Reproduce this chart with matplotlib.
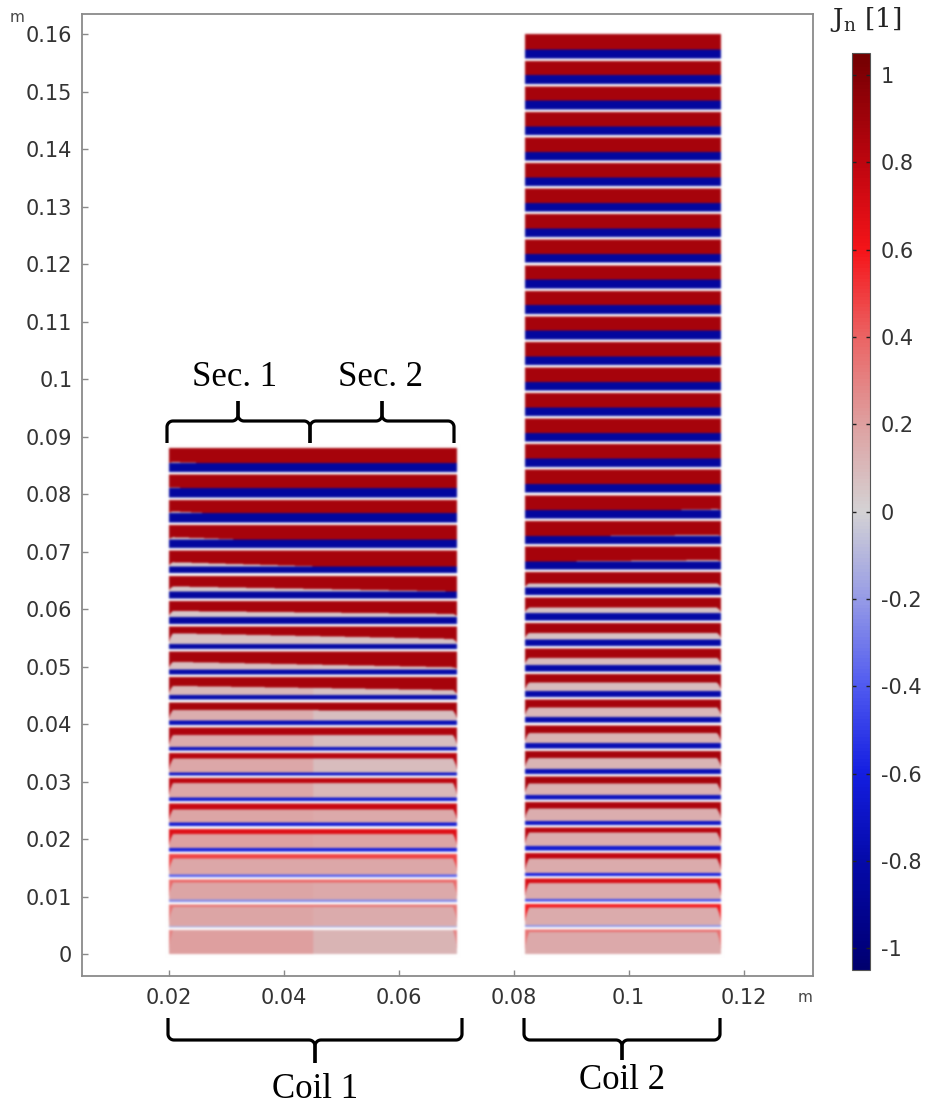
import numpy as np
import matplotlib
matplotlib.use('Agg')
import matplotlib.pyplot as plt
from matplotlib.colors import LinearSegmentedColormap, Normalize
from matplotlib.cm import ScalarMappable

plt.rcParams['axes.unicode_minus'] = False

# ---------------- data ----------------
# geometry of the two coils (m)
coil1_x = (0.02, 0.07)
coil1_y = (0.0, 0.088)
coil1_split = 0.045          # border between Sec. 1 and Sec. 2
coil2_x = (0.082, 0.116)
coil2_y = (0.0, 0.16)

# Coil 1, 20 turns, bottom (k=0) to top (k=19); thickness as fraction of the turn pitch
c1_blue = [0.00, 0.06, 0.10, 0.10, 0.13, 0.15, 0.13, 0.13, 0.13, 0.17,
           0.18, 0.20, 0.20, 0.27, 0.28, 0.27, 0.33, 0.38, 0.37, 0.35]
c1_core_left = [0.95, 0.74, 0.68, 0.62, 0.56, 0.52, 0.57, 0.54, 0.48, 0.43,
                0.37, 0.30, 0.43, 0.24, 0.20, 0.17, 0.10, 0.07, 0.04, 0.05]
c1_core_right = [0.95, 0.74, 0.68, 0.62, 0.56, 0.52, 0.57, 0.54, 0.47, 0.40,
                 0.20, 0.08, 0.20, 0.12, 0.00, -0.16, -0.29, -0.45, -0.76, -0.30]
c1_core_val_left = [0.20, 0.18, 0.18, 0.17, 0.19, 0.18, 0.17, 0.17, 0.15, 0.14,
                    0.10, 0.08, 0.06, 0.04, 0.03, 0.03, 0.03, 0.03, 0.03, 0.03]
c1_core_val_right = [0.12, 0.15, 0.16, 0.17, 0.18, 0.16, 0.10, 0.09, 0.08, 0.08,
                     0.06, 0.06, 0.05, 0.04, 0.03, 0.03, 0.03, 0.03, 0.03, 0.03]
c1_red_val = [0.30, 0.33, 0.38, 0.48, 0.68, 0.76, 0.80, 0.82, 0.85, 0.87,
              0.87, 0.87, 0.87, 0.87, 0.87, 0.87, 0.87, 0.87, 0.87, 0.87]
c1_blue_val = [-0.10, -0.12, -0.25, -0.38, -0.60, -0.65, -0.65, -0.70, -0.72, -0.75,
               -0.78, -0.80, -0.82, -0.84, -0.85, -0.85, -0.85, -0.85, -0.85, -0.85]

# Coil 2, 36 turns, bottom (k=0) to top (k=35)
c2_blue = [0.00, 0.08, 0.10, 0.12, 0.17, 0.15, 0.17, 0.18, 0.20, 0.22,
           0.24, 0.25, 0.26, 0.29, 0.29, 0.30, 0.30, 0.32, 0.34, 0.34,
           0.34, 0.34, 0.34, 0.34, 0.34, 0.34, 0.34, 0.34, 0.34, 0.34,
           0.34, 0.34, 0.34, 0.34, 0.34, 0.34]
c2_core_left = [0.86, 0.69, 0.63, 0.56, 0.53, 0.49, 0.46, 0.44, 0.40, 0.38,
                0.33, 0.29, 0.26, 0.21, 0.16, 0.00, -0.01, -0.09, -1, -1,
                -1, -1, -1, -1, -1, -1, -1, -1, -1, -1,
                -1, -1, -1, -1, -1, -1]
c2_core_right = [0.86, 0.69, 0.63, 0.56, 0.53, 0.49, 0.46, 0.44, 0.40, 0.38,
                 0.33, 0.29, 0.26, 0.21, 0.16, 0.07, 0.05, 0.04, -1, -1,
                 -1, -1, -1, -1, -1, -1, -1, -1, -1, -1,
                 -1, -1, -1, -1, -1, -1]
c2_core_val = [0.16, 0.15, 0.15, 0.15, 0.14, 0.14, 0.13, 0.12, 0.12, 0.10,
               0.09, 0.08, 0.06, 0.05, 0.04, 0.03, 0.03, 0.03, 0.03, 0.03,
               0.03, 0.03, 0.03, 0.03, 0.03, 0.03, 0.03, 0.03, 0.03, 0.03,
               0.03, 0.03, 0.03, 0.03, 0.03, 0.03]
c2_red_val = [0.36, 0.58, 0.70, 0.78, 0.82, 0.85, 0.87, 0.87, 0.87, 0.87,
              0.87, 0.87, 0.87, 0.87, 0.87, 0.87, 0.87, 0.87, 0.87, 0.87,
              0.87, 0.87, 0.87, 0.87, 0.87, 0.87, 0.87, 0.87, 0.87, 0.87,
              0.87, 0.87, 0.87, 0.87, 0.87, 0.87]
c2_blue_val = [-0.10, -0.22, -0.45, -0.60, -0.65, -0.70, -0.72, -0.75, -0.76, -0.78,
               -0.80, -0.80, -0.82, -0.82, -0.84, -0.85, -0.85, -0.85, -0.85, -0.85,
               -0.85, -0.85, -0.85, -0.85, -0.85, -0.85, -0.85, -0.85, -0.85, -0.85,
               -0.85, -0.85, -0.85, -0.85, -0.85, -0.85]

xticks = [0.02, 0.04, 0.06, 0.08, 0.10, 0.12]
xticklabels = ['0.02', '0.04', '0.06', '0.08', '0.1', '0.12']
yticks = [0.00, 0.01, 0.02, 0.03, 0.04, 0.05, 0.06, 0.07, 0.08,
          0.09, 0.10, 0.11, 0.12, 0.13, 0.14, 0.15, 0.16]
yticklabels = ['0', '0.01', '0.02', '0.03', '0.04', '0.05', '0.06', '0.07', '0.08',
               '0.09', '0.1', '0.11', '0.12', '0.13', '0.14', '0.15', '0.16']
cbar_ticks = [-1, -0.8, -0.6, -0.4, -0.2, 0, 0.2, 0.4, 0.6, 0.8, 1]
cbar_ticklabels = ['-1', '-0.8', '-0.6', '-0.4', '-0.2', '0', '0.2', '0.4', '0.6', '0.8', '1']
vmin, vmax = -1.05, 1.05

# ---------------- colormap (COMSOL-like "wave light") ----------------
cm_pos = [-1.05, -1.0, -0.8, -0.6, -0.4, -0.2, 0.0, 0.2, 0.4, 0.6, 0.8, 1.0, 1.05]
cm_rgb = [(0, 0, 110), (0, 0, 125), (5, 10, 170), (20, 30, 225), (80, 90, 240),
          (150, 155, 230), (212, 210, 212), (222, 160, 160), (235, 100, 100),
          (245, 20, 25), (190, 5, 15), (130, 0, 5), (115, 0, 0)]
cmap = LinearSegmentedColormap.from_list(
    'wavelight', [((p - vmin) / (vmax - vmin), tuple(c / 255 for c in rgb))
                  for p, rgb in zip(cm_pos, cm_rgb)])
norm = Normalize(vmin, vmax)

PX = 5750.0   # pixels per metre in the output
SS = 2        # supersampling


def blur(img, sigma):
    r = int(3 * sigma) + 1
    xk = np.arange(-r, r + 1)
    k = np.exp(-xk ** 2 / (2 * sigma ** 2))
    k /= k.sum()
    out = img
    for axis in (0, 1):
        padw = [(0, 0)] * img.ndim
        padw[axis] = (r, r)
        p = np.pad(out, padw, mode='edge')
        acc = np.zeros_like(out)
        for i, w in enumerate(k):
            sl = [slice(None)] * img.ndim
            sl[axis] = slice(i, i + out.shape[axis])
            acc += w * p[tuple(sl)]
        out = acc
    return out


def coil_image(xr, yr, blue, core_l, core_r, val_l, val_r, red_v, blue_v, split):
    x0, x1 = xr
    y0, y1 = yr
    n = len(blue)
    d = 1.0 / (PX * SS)
    pad = 6.0 / PX
    xs = np.arange(x0 - pad, x1 + pad, d) + d / 2
    ys = np.arange(y0 - pad, y1 + pad, d) + d / 2
    X, Y = np.meshgrid(xs, ys)
    inside = (X >= x0) & (X <= x1) & (Y >= y0) & (Y <= y1)
    p = (y1 - y0) / n
    kf = (Y - y0) / p
    k = np.clip(np.floor(kf).astype(int), 0, n - 1)
    f = kf - k
    g2 = 0.05
    base = np.where(k == 0, 0.0, g2)
    top = np.where(k == n - 1, 1.0, 1 - g2)
    u = (X - x0) / (x1 - x0)
    cl = np.asarray(core_l)[k]
    cr = np.asarray(core_r)[k]
    t = np.clip(cl + (cr - cl) * u, 0, None)
    de = np.minimum(X - x0, x1 - X)
    t = t * np.clip(de / 0.0007, 0, 1) ** 0.5
    b = np.asarray(blue)[k]
    core_val = np.where(X < split, np.asarray(val_l)[k], np.asarray(val_r)[k])
    val = np.where(f < base + b, np.asarray(blue_v)[k],
                   np.where(f < base + b + t, core_val, np.asarray(red_v)[k]))
    rgb = cmap(norm(val))[..., :3]
    white = (~inside) | (f < base) | (f > top)
    rgb[white] = 1.0
    rgb = blur(rgb, 1.0 * SS)
    extent = (xs[0] - d / 2, xs[-1] + d / 2, ys[0] - d / 2, ys[-1] + d / 2)
    return np.clip(rgb, 0, 1), extent


W, H = 930, 1105
fig = plt.figure(figsize=(W / 100, H / 100), dpi=100)

ax_l, ax_r, ax_t, ax_b = 82, 813, 14, 976
ax = fig.add_axes([ax_l / W, 1 - ax_b / H, (ax_r - ax_l) / W, (ax_b - ax_t) / H])
x02_px, y0_px = 168.5, 954.3

img1, ext1 = coil_image(coil1_x, coil1_y, c1_blue, c1_core_left, c1_core_right,
                        c1_core_val_left, c1_core_val_right, c1_red_val, c1_blue_val,
                        coil1_split)
img2, ext2 = coil_image(coil2_x, coil2_y, c2_blue, c2_core_left, c2_core_right,
                        c2_core_val, c2_core_val, c2_red_val, c2_blue_val, 1.0)
ax.imshow(img1, extent=ext1, origin='lower', interpolation='antialiased', aspect='auto')
ax.imshow(img2, extent=ext2, origin='lower', interpolation='antialiased', aspect='auto')
ax.set_xlim(0.02 - (x02_px - ax_l) / PX, 0.02 + (ax_r - x02_px) / PX)
ax.set_ylim(-(ax_b - y0_px) / PX, (y0_px - ax_t) / PX)

spine_col = '#8a8a8a'
for s in ax.spines.values():
    s.set_color(spine_col)
    s.set_linewidth(1.3)
ax.set_xticks(xticks)
ax.set_xticklabels(xticklabels)
ax.set_yticks(yticks)
ax.set_yticklabels(yticklabels)
ax.tick_params(direction='in', length=4, width=1, color=spine_col,
               labelsize=15, labelcolor='#333333')
ax.tick_params(axis='y', pad=7)
ax.tick_params(axis='x', pad=9)

# colorbar
cb_l, cb_r, cb_t, cb_b = 852, 870, 53, 970
cax = fig.add_axes([cb_l / W, 1 - cb_b / H, (cb_r - cb_l) / W, (cb_b - cb_t) / H])
cb = fig.colorbar(ScalarMappable(norm=norm, cmap=cmap), cax=cax, ticks=cbar_ticks)
cb.set_ticklabels(cbar_ticklabels)
cb.outline.set_edgecolor('#555555')
cb.outline.set_linewidth(0.8)
cax.tick_params(direction='in', length=3, width=1, color='#222222', left=True, right=True,
                labelsize=15, labelcolor='#333333', pad=8)

# overlay in pixel coordinates for annotations
ov = fig.add_axes([0, 0, 1, 1])
ov.set_xlim(0, W)
ov.set_ylim(H, 0)
ov.axis('off')
ov.patch.set_alpha(0)

fig.text(10 / W, 1 - 18 / H, 'm', fontsize=11, color='#444444', va='center')
fig.text(798 / W, 1 - 998 / H, 'm', fontsize=11, color='#444444', va='center')
ov.text(866, 20, r'$\mathrm{J_n}$ [1]', fontsize=19, family='DejaVu Serif',
        ha='center', va='center', color='#222222', math_fontfamily='dejavuserif')


def brace(x0, x1, xm, yh, end_len, tip_len, sgn, r=6.0):
    """Curly brace; sgn=+1: ends point down (tip up), sgn=-1: ends point up."""
    th = np.linspace(0, np.pi / 2, 12)
    pts = [(x0, yh + sgn * end_len)]
    pts += [(x0 + r - r * np.cos(a), yh + sgn * (r - r * np.sin(a))) for a in th]
    pts += [(xm - r + r * np.sin(a), yh - sgn * (r - r * np.cos(a))) for a in th]
    pts.append((xm, yh - sgn * tip_len))
    pts2 = [(xm, yh - sgn * tip_len)]
    pts2 += [(xm + r - r * np.cos(a), yh - sgn * (r - r * np.sin(a))) for a in th]
    pts2 += [(x1 - r + r * np.sin(a), yh + sgn * (r - r * np.cos(a))) for a in th]
    pts2.append((x1, yh + sgn * end_len))
    for pp in (pts, pts2):
        xx, yy = zip(*pp)
        ov.plot(xx, yy, color='black', lw=2.3, solid_capstyle='butt',
                solid_joinstyle='round')


brace(167, 310, 238, 421, 22, 20, +1)
brace(310, 454, 382, 421, 22, 20, +1)
brace(168, 462, 315, 1040, 22, 23, -1)
brace(524, 720, 622, 1040, 22, 20, -1)

serif = 'Liberation Serif'
ov.text(235, 378, 'Sec. 1', fontsize=25, family=serif, ha='center', va='center')
ov.text(380, 378, 'Sec. 2', fontsize=25, family=serif, ha='center', va='center')
ov.text(315, 1073, 'Coil 1', fontsize=25, family=serif, ha='center', va='top')
ov.text(622, 1064, 'Coil 2', fontsize=25, family=serif, ha='center', va='top')

fig.savefig('out.png', dpi=100)
